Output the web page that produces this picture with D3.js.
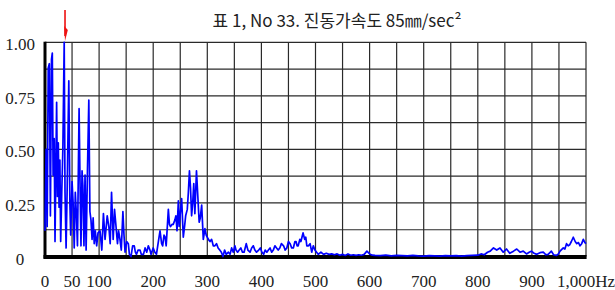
<!DOCTYPE html>
<html>
<head>
<meta charset="utf-8">
<script src="https://cdn.jsdelivr.net/npm/d3@7"></script>
<style>
  body { margin: 0; background: #fff; }
  svg { display: block; }
  .tick-label { font-family: 'Liberation Serif', serif; font-size: 17px; fill: #222; }
  .title { font-family: 'Noto Sans CJK KR', sans-serif; font-size: 17px; fill: #222; }
</style>
</head>
<body>
<div id="chart"></div>
<script>
// chart text
const titleText = '표 1, No 33. 진동가속도 85㎜/sec²'

// x axis (Hz)
const xTicks = [0, 50, 100, 200, 300, 400, 500, 600, 700, 800, 900, 1000]
const xTickLabels = ['0', '50', '100', '200', '300', '400', '500', '600', '700', '800', '900', '1,000Hz']
const xGridStep = 50

// y axis (relative amplitude)
const yTicks = [0, 0.25, 0.5, 0.75, 1]
const yTickLabels = ['0', '0.25', '0.50', '0.75', '1.00']
const yGridStep = 0.125

// marked peak
const arrowFreq = 37

// spectrum: [Hz, amplitude]
const spectrum = [
  [0, 0.12], [2, 0.50], [4, 0.14], [6, 0.88], [8, 0.90], [10, 0.19], [12, 0.92], [13.5, 0.95],
  [15, 0.38], [17, 0.55], [18.5, 0.07], [21.5, 0.72], [23, 0.28], [24.6, 0.53], [26, 0.23],
  [27.5, 0.45], [29, 0.07], [31, 0.30], [33, 0.50], [35.5, 1.00], [37, 0.30], [39, 0.04],
  [41, 0.32], [44, 0.82], [46, 0.25], [47.5, 0.10], [50, 0.35], [52, 0.25], [54, 0.04],
  [56, 0.30], [58, 0.20], [60, 0.05], [63, 0.69], [65, 0.30], [66.5, 0.05], [68.5, 0.40],
  [70, 0.33], [72, 0.05], [74, 0.38], [76, 0.03], [78.5, 0.40], [81, 0.73], [83, 0.21],
  [85, 0.17], [87, 0.08], [89, 0.18], [91, 0.06], [93, 0.12], [95.5, 0.05], [98, 0.11],
  [101.7, 0.12], [105, 0.03], [108, 0.20], [111, 0.08], [115, 0.19], [118, 0.14], [120.5, 0.06],
  [123, 0.30], [126, 0.08], [128.5, 0.22], [130.6, 0.16], [134, 0.06], [136, 0.12], [138.6, 0.08],
  [141, 0.03], [144, 0.21], [146, 0.10], [148, 0.02], [151, 0.07], [154, 0.06], [156, 0.01],
  [159, 0.00], [162, 0.05], [165, 0.05], [167, 0.02], [169, 0.01], [172, 0.03], [175.6, 0.03],
  [178, 0.01], [182, 0.01], [185, 0.04], [188, 0.02], [191, 0.05], [194, 0.03], [196, 0.01],
  [200, 0.04], [203, 0.02], [206, 0.01], [209, 0.06], [212.6, 0.12], [215.6, 0.06], [217.5, 0.05],
  [220, 0.10], [222, 0.09], [224, 0.05], [228, 0.22], [230, 0.15], [232, 0.14], [235, 0.15],
  [237, 0.15], [240, 0.17], [242, 0.19], [244, 0.12], [246.5, 0.26], [248, 0.14], [250, 0.20],
  [252.6, 0.27], [255.6, 0.09], [258, 0.14], [260, 0.19], [263, 0.22], [265, 0.30], [267, 0.40],
  [269, 0.32], [271, 0.19], [273, 0.25], [275, 0.34], [277, 0.20], [280, 0.40], [282.5, 0.28],
  [285, 0.16], [287, 0.18], [289.6, 0.24], [292.6, 0.08], [295.6, 0.13], [298, 0.10], [302, 0.08],
  [305, 0.07], [308, 0.08], [311, 0.05], [314, 0.05], [317, 0.06], [320, 0.04], [323, 0.03],
  [326, 0.02], [329, 0.00], [332, 0.03], [335, 0.01], [339, 0.02], [342, 0.01], [345, 0.04],
  [348, 0.02], [351, 0.05], [353, 0.03], [356, 0.02], [359, 0.03], [362, 0.04], [365, 0.02],
  [368, 0.02], [372, 0.06], [375, 0.03], [379, 0.02], [382, 0.04], [385, 0.05], [388, 0.03],
  [391, 0.02], [395, 0.03], [398, 0.04], [401, 0.02], [404, 0.01], [407, 0.03], [410, 0.02],
  [413, 0.03], [416, 0.04], [419, 0.02], [422, 0.03], [425, 0.05], [428, 0.04], [431, 0.03],
  [434, 0.04], [437, 0.06], [441, 0.05], [444, 0.03], [447, 0.04], [450, 0.07], [453, 0.06],
  [456, 0.04], [459, 0.04], [462, 0.07], [464, 0.07], [466, 0.05], [468, 0.05], [471, 0.08],
  [473, 0.07], [475, 0.09], [477, 0.11], [480, 0.08], [482, 0.09], [484, 0.05], [487, 0.05],
  [490, 0.06], [493, 0.02], [496, 0.05], [499, 0.03], [502, 0.02], [505, 0.01], [510, 0.02],
  [515, 0.01], [520, 0.015], [525, 0.01], [530, 0.012], [535, 0.008], [540, 0.012], [545, 0.006],
  [550, 0.01], [555, 0.005], [560, 0.012], [565, 0.006], [570, 0.008], [575, 0.005], [580, 0.008],
  [585, 0.006], [590, 0.01], [595, 0.025], [600, 0.012], [605, 0.006], [610, 0.005], [620, 0.004],
  [630, 0.006], [640, 0.003], [650, 0.005], [660, 0.004], [670, 0.003], [680, 0.005], [690, 0.003],
  [700, 0.002], [710, 0.004], [720, 0.003], [730, 0.002], [740, 0.004], [750, 0.003], [760, 0.004],
  [770, 0.002], [780, 0.004], [790, 0.005], [800, 0.006], [806, 0.012], [812, 0.008], [818, 0.02],
  [823, 0.025], [829, 0.04], [835, 0.03], [841, 0.04], [847, 0.02], [853, 0.035], [859, 0.015],
  [866, 0.025], [872, 0.035], [878, 0.02], [884, 0.025], [890, 0.012], [895, 0.02], [899, 0.025],
  [904, 0.015], [909, 0.01], [915, 0.018], [921, 0.02], [926, 0.008], [930, 0.01], [936, 0.025],
  [940, 0.008], [945, 0.005], [949, 0.012], [952, 0.025], [958, 0.04], [961, 0.035], [964, 0.06],
  [967, 0.05], [970, 0.055], [973, 0.07], [976.5, 0.09], [980, 0.07], [983, 0.06], [986, 0.065],
  [989, 0.05], [992, 0.06], [995, 0.08], [998, 0.065], [1000, 0.06]
]

const width = 615
const height = 290
const margin = { top: 42.3, right: 29, bottom: 33.5, left: 45 }

const svg = d3.select('#chart')
  .append('svg')
  .attr('width', width)
  .attr('height', height)

svg.append('rect')
  .attr('width', width)
  .attr('height', height)
  .attr('fill', '#fff')

const x = d3.scaleLinear()
  .domain([0, 1000])
  .range([margin.left, width - margin.right])

const y = d3.scaleLinear()
  .domain([0, 1])
  .range([height - margin.bottom, margin.top])

// grid
const grid = svg.append('g').attr('class', 'grid')
  .attr('stroke', '#2a2a2a')
  .attr('stroke-width', 1.2)

grid.selectAll('line.v')
  .data(d3.range(xGridStep, 1000 + 1, xGridStep))
  .enter()
  .append('line')
  .attr('class', 'v')
  .attr('x1', d => x(d))
  .attr('x2', d => x(d))
  .attr('y1', y(1))
  .attr('y2', y(0))

grid.selectAll('line.h')
  .data(d3.range(yGridStep, 1 + 1e-9, yGridStep))
  .enter()
  .append('line')
  .attr('class', 'h')
  .attr('x1', x(0))
  .attr('x2', x(1000))
  .attr('y1', d => y(d))
  .attr('y2', d => y(d))

// thick axis lines
svg.append('line')
  .attr('x1', x(0))
  .attr('x2', x(0))
  .attr('y1', y(1) - 0.6)
  .attr('y2', y(0) + 2)
  .attr('stroke', '#000')
  .attr('stroke-width', 3)

svg.append('line')
  .attr('x1', x(0) - 1.5)
  .attr('x2', x(1000) + 0.6)
  .attr('y1', y(0) + 0.5)
  .attr('y2', y(0) + 0.5)
  .attr('stroke', '#000')
  .attr('stroke-width', 4)

// spectrum line
const line = d3.line()
  .x(d => x(d[0]))
  .y(d => y(d[1]))

svg.append('path')
  .datum(spectrum)
  .attr('d', line)
  .attr('fill', 'none')
  .attr('stroke', '#0000ff')
  .attr('stroke-width', 1.7)
  .attr('stroke-linejoin', 'round')

// tick labels
svg.append('g')
  .selectAll('text')
  .data(yTicks)
  .enter()
  .append('text')
  .attr('class', 'tick-label')
  .attr('x', 20)
  .attr('y', d => y(d) + 8)
  .attr('text-anchor', 'middle')
  .text((d, i) => yTickLabels[i])

svg.append('g')
  .selectAll('text')
  .data(xTicks)
  .enter()
  .append('text')
  .attr('class', 'tick-label')
  .attr('x', d => x(d))
  .attr('y', 287)
  .attr('text-anchor', 'middle')
  .text((d, i) => xTickLabels[i])

// title
svg.append('text')
  .attr('class', 'title')
  .attr('x', 337)
  .attr('y', 27)
  .attr('text-anchor', 'middle')
  .text(titleText)

// red arrow above the main peak
const ax = x(arrowFreq)
svg.append('line')
  .attr('x1', ax)
  .attr('x2', ax)
  .attr('y1', 10)
  .attr('y2', 36)
  .attr('stroke', '#ee1111')
  .attr('stroke-width', 1.6)

svg.append('path')
  .attr('d', `M${ax - 0.8},26 L${ax + 2.8},30 L${ax},41 Z`)
  .attr('fill', '#ee1111')
</script>
</body>
</html>
